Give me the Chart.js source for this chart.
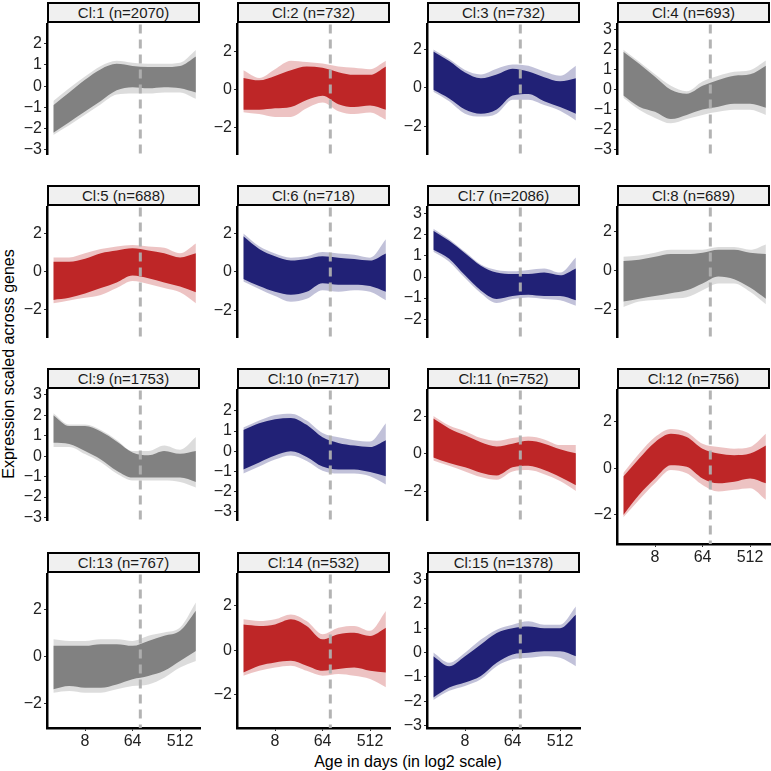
<!DOCTYPE html>
<html>
<head>
<meta charset="utf-8">
<script src="https://cdn.jsdelivr.net/npm/chart.js@4.4.1/dist/chart.umd.min.js"></script>
<style>
  body { margin: 0; background: #fff; width: 771px; height: 771px; position: relative; overflow: hidden;
         font-family: "Liberation Sans", Arial, sans-serif; }
  canvas { position: absolute; }
  .strip { position: absolute; box-sizing: border-box; border: 2px solid #000; background: #f0f0f0;
           font-size: 15px; text-align: center; line-height: 17px; color: #1a1a1a; white-space: nowrap; }
  .ytitle { position: absolute; left: 9px; top: 364px; transform: translate(-50%, -50%) rotate(-90deg);
            font-size: 16px; color: #000; white-space: nowrap; }
  .xtitle { position: absolute; left: 408px; top: 762px; transform: translate(-50%, -50%);
            font-size: 16px; color: #000; white-space: nowrap; }
</style>
</head>
<body>
<div class="ytitle">Expression scaled across genes</div>
<div class="xtitle">Age in days (in log2 scale)</div>
<script>
// sampled ages (days) – x positions of every band
const ageDays = [2, 4, 8, 16, 32, 64, 128, 256, 512, 1024];
const xTickDays = [8, 64, 512];
const markerDay = 90;

const clusterNames = ['Cl:1 (n=2070)', 'Cl:2 (n=732)', 'Cl:3 (n=732)', 'Cl:4 (n=693)',
  'Cl:5 (n=688)', 'Cl:6 (n=718)', 'Cl:7 (n=2086)', 'Cl:8 (n=689)',
  'Cl:9 (n=1753)', 'Cl:10 (n=717)', 'Cl:11 (n=752)', 'Cl:12 (n=756)',
  'Cl:13 (n=767)', 'Cl:14 (n=532)', 'Cl:15 (n=1378)'];
const clusterGroup = ['grey', 'red', 'blue', 'grey', 'red', 'blue', 'blue', 'grey',
  'grey', 'blue', 'red', 'red', 'grey', 'red', 'blue'];

// faint outer edge of the bundle of gene curves
const outerHigh = [
  [-0.7, -0.1, 0.45, 0.95, 1.2, 1.1, 1.05, 1.05, 1.1, 1.7],
  [1.0, 0.6, 1.06, 1.5, 1.43, 1.35, 1.2, 1.13, 1.06, 1.5],
  [2.0, 1.5, 0.93, 0.7, 1.0, 1.22, 1.15, 0.85, 0.63, 1.15],
  [2.0, 1.4, 0.77, 0.2, -0.07, 0.42, 0.7, 0.9, 0.98, 1.46],
  [0.73, 0.73, 0.95, 1.17, 1.31, 1.39, 1.31, 1.24, 0.95, 1.46],
  [2.0, 1.33, 0.96, 0.74, 0.81, 1.04, 0.96, 0.89, 0.74, 1.7],
  [2.3, 1.8, 1.2, 0.6, 0.34, 0.28, 0.34, 0.41, 0.21, 0.93],
  [0.72, 0.79, 0.93, 1.08, 1.08, 1.08, 1.22, 1.22, 1.08, 1.36],
  [2.09, 1.54, 1.54, 1.27, 0.79, 0.25, 0.25, 0.52, 0.31, 0.93],
  [1.17, 1.52, 1.79, 1.86, 1.52, 0.9, 0.69, 0.55, 0.48, 1.38],
  [2.04, 1.52, 1.22, 0.85, 0.7, 0.85, 0.93, 0.78, 0.48, 0.48],
  [-0.2, 0.64, 1.35, 1.7, 1.56, 1.06, 0.92, 0.85, 0.92, 1.49],
  [0.74, 0.67, 0.67, 0.74, 0.74, 0.67, 0.89, 1.03, 1.24, 2.31],
  [1.39, 1.31, 1.39, 1.61, 1.31, 0.72, 1.01, 1.09, 0.87, 1.76],
  [0.0, -0.42, -0.01, 0.53, 0.94, 1.14, 1.28, 1.14, 1.14, 1.89]
];
// dense core of the bundle
const coreHigh = [
  [-0.9, -0.3, 0.3, 0.8, 1.05, 0.95, 0.9, 0.9, 0.95, 1.4],
  [0.6, 0.47, 0.7, 1.0, 1.2, 1.13, 0.9, 0.76, 0.76, 1.2],
  [1.9, 1.4, 0.8, 0.5, 0.7, 1.0, 0.85, 0.56, 0.34, 0.5],
  [1.9, 1.3, 0.65, 0.0, -0.2, 0.2, 0.49, 0.7, 0.77, 1.2],
  [0.5, 0.5, 0.66, 0.95, 1.09, 1.21, 1.09, 0.95, 0.73, 0.95],
  [1.85, 1.19, 0.81, 0.59, 0.67, 0.81, 0.74, 0.67, 0.59, 0.96],
  [2.2, 1.72, 1.13, 0.54, 0.21, 0.14, 0.14, 0.21, 0.08, 0.41],
  [0.5, 0.57, 0.72, 0.86, 0.86, 0.93, 1.08, 1.08, 0.93, 0.86],
  [2.0, 1.47, 1.47, 1.2, 0.72, 0.18, 0.04, 0.25, 0.11, 0.25],
  [1.05, 1.38, 1.58, 1.65, 1.31, 0.69, 0.41, 0.28, 0.21, 0.55],
  [1.9, 1.37, 1.0, 0.63, 0.4, 0.55, 0.7, 0.55, 0.25, 0.03],
  [-0.35, 0.43, 1.13, 1.49, 1.35, 0.85, 0.64, 0.57, 0.64, 0.99],
  [0.46, 0.46, 0.46, 0.53, 0.53, 0.46, 0.67, 0.89, 1.1, 1.96],
  [1.15, 1.09, 1.16, 1.39, 1.09, 0.49, 0.72, 0.79, 0.64, 1.01],
  [-0.15, -0.56, -0.15, 0.33, 0.8, 1.0, 1.07, 1.0, 1.0, 1.55]
];
const coreLow = [
  [-2.2, -1.7, -1.2, -0.7, -0.2, -0.05, -0.1, -0.05, -0.1, -0.3],
  [-1.07, -1.07, -1.0, -0.93, -0.56, -0.34, -0.78, -0.93, -0.85, -1.07],
  [-0.1, -0.55, -1.13, -1.35, -1.13, -0.4, -0.32, -0.7, -1.0, -1.35],
  [-0.28, -0.84, -1.1, -1.46, -1.25, -0.98, -0.84, -0.7, -0.7, -0.9],
  [-1.5, -1.39, -1.17, -0.88, -0.58, -0.22, -0.36, -0.58, -0.8, -1.1],
  [-0.37, -0.74, -1.04, -1.19, -1.04, -0.59, -0.67, -0.67, -0.74, -1.04],
  [1.3, 0.87, 0.08, -0.64, -1.04, -0.9, -0.84, -0.9, -0.9, -1.1],
  [-1.58, -1.43, -1.29, -1.15, -1.0, -0.65, -0.29, -0.43, -0.86, -1.43],
  [0.65, 0.59, 0.25, -0.16, -0.71, -1.05, -1.05, -1.05, -1.05, -1.26],
  [-0.9, -0.55, -0.21, 0.0, -0.28, -0.76, -0.9, -0.9, -1.03, -1.24],
  [-0.19, -0.49, -0.72, -1.01, -1.16, -0.72, -0.64, -0.87, -1.24, -1.69],
  [-2.0, -1.13, -0.43, 0.14, 0.07, -0.43, -0.64, -0.57, -0.43, -0.64],
  [-1.4, -1.26, -1.33, -1.33, -1.19, -0.97, -0.83, -0.61, -0.19, 0.24],
  [-1.0, -0.7, -0.55, -0.48, -0.7, -0.93, -0.85, -0.78, -0.93, -1.0],
  [-1.85, -1.44, -1.23, -0.96, -0.42, -0.08, -0.01, 0.05, 0.05, -0.15]
];
const outerLow = [
  [-2.3, -1.85, -1.35, -0.85, -0.4, -0.35, -0.35, -0.3, -0.3, -0.6],
  [-1.2, -1.3, -1.45, -1.45, -1.0, -0.7, -1.15, -1.3, -1.22, -1.6],
  [-0.2, -0.7, -1.35, -1.5, -1.35, -0.62, -0.62, -0.9, -1.2, -1.7],
  [-0.4, -1.0, -1.4, -1.67, -1.46, -1.25, -1.1, -1.0, -1.0, -1.25],
  [-1.68, -1.53, -1.39, -1.24, -0.88, -0.51, -0.66, -0.88, -1.1, -1.68],
  [-0.5, -0.89, -1.26, -1.56, -1.41, -0.96, -1.04, -0.96, -1.04, -1.48],
  [1.2, 0.73, -0.05, -0.77, -1.23, -1.04, -0.97, -1.04, -1.1, -1.36],
  [-1.86, -1.58, -1.5, -1.43, -1.36, -1.0, -0.65, -0.65, -1.08, -1.72],
  [0.45, 0.45, 0.1, -0.3, -0.85, -1.19, -1.19, -1.19, -1.26, -1.53],
  [-1.1, -0.76, -0.41, -0.21, -0.48, -0.96, -1.1, -1.1, -1.24, -1.65],
  [-0.35, -0.64, -0.94, -1.24, -1.39, -0.94, -0.87, -1.09, -1.46, -1.99],
  [-2.1, -1.35, -0.64, -0.07, -0.21, -0.71, -0.99, -0.92, -0.85, -1.35],
  [-1.54, -1.47, -1.54, -1.54, -1.4, -1.26, -1.19, -0.9, -0.47, -0.19],
  [-1.15, -0.93, -0.78, -0.7, -0.93, -1.15, -1.07, -1.15, -1.3, -1.67],
  [-1.95, -1.57, -1.37, -1.1, -0.56, -0.28, -0.22, -0.15, -0.22, -0.56]
];

const yLimits = [[-3.2, 2.9], [-3.4, 3.4], [-3.45, 3.3], [-3.2, 3.25],
  [-3.45, 3.35], [-3.4, 3.35], [-2.85, 3.3], [-3.4, 3.25],
  [-3.12, 3.2], [-3.4, 3.0], [-3.55, 3.4], [-3.25, 3.35],
  [-3.05, 3.5], [-3.5, 3.4], [-3.1, 3.2]];
const yTickValues = [[-3, -2, -1, 0, 1, 2], [-2, 0, 2], [-2, 0, 2], [-3, -2, -1, 0, 1, 2, 3],
  [-2, 0, 2], [-2, 0, 2], [-2, -1, 0, 1, 2, 3], [-2, 0, 2],
  [-3, -2, -1, 0, 1, 2, 3], [-3, -2, -1, 0, 1, 2], [-2, 0, 2], [-2, 0, 2],
  [-2, 0, 2], [-2, 0, 2], [-3, -2, -1, 0, 1, 2, 3]];

const palette = {
  grey: ['rgba(130,130,130,1)', 'rgba(130,130,130,0.28)'],
  red: ['rgba(190,38,40,1)', 'rgba(190,38,40,0.28)'],
  blue: ['rgba(34,34,118,1)', 'rgba(34,34,118,0.28)']
};

// facet layout
const colLeft = [47, 237, 427, 617];
const stripTop = [2, 185, 368, 552];
const panelW = 153, panelH = 155, stripH = 21, yAxisW = 34, xAxisH = 24, pad = 10;
const withXAxis = [11, 12, 13, 14];

const markerLine = {
  id: 'markerLine',
  afterDatasetsDraw(chart) {
    const { ctx, chartArea, scales } = chart;
    const x = scales.x.getPixelForValue(markerDay);
    ctx.save();
    ctx.strokeStyle = 'rgba(175,175,175,0.95)';
    ctx.lineWidth = 3;
    ctx.setLineDash([9, 6]);
    ctx.beginPath();
    ctx.moveTo(x, chartArea.top);
    ctx.lineTo(x, chartArea.bottom);
    ctx.stroke();
    ctx.restore();
  }
};

const fmt = v => (v < 0 ? '\u2212' + Math.abs(v) : String(v));
const pts = arr => ageDays.map((d, k) => ({ x: d, y: arr[k] }));

function band(data, colour, fillTo) {
  return {
    data: pts(data), fill: fillTo, backgroundColor: colour,
    borderWidth: 0, borderColor: 'rgba(0,0,0,0)', pointRadius: 0,
    cubicInterpolationMode: 'monotone'
  };
}

clusterNames.forEach((name, i) => {
  const col = i % 4, row = Math.floor(i / 4);
  const left = colLeft[col], top = stripTop[row];
  const hasX = withXAxis.includes(i);

  const strip = document.createElement('div');
  strip.className = 'strip';
  strip.style.left = left + 'px';
  strip.style.top = top + 'px';
  strip.style.width = panelW + 'px';
  strip.style.height = stripH + 'px';
  strip.textContent = name;

  const canvas = document.createElement('canvas');
  const w = yAxisW + panelW + 4;
  const h = pad + panelH + (hasX ? xAxisH : 0) + pad;
  canvas.width = w; canvas.height = h;
  canvas.style.width = w + 'px'; canvas.style.height = h + 'px';
  canvas.style.left = (left - yAxisW) + 'px';
  canvas.style.top = (top + stripH - pad) + 'px';
  document.body.appendChild(canvas);
  document.body.appendChild(strip);

  const [solid, faint] = palette[clusterGroup[i]];
  const tickFont = { family: '"Liberation Sans", Arial, sans-serif', size: 16 };

  new Chart(canvas, {
    type: 'line',
    data: {
      datasets: [
        band(outerHigh[i], faint, 1),
        band(outerLow[i], faint, false),
        band(coreHigh[i], solid, 3),
        band(coreLow[i], solid, false)
      ]
    },
    options: {
      responsive: false, animation: false, devicePixelRatio: 1,
      layout: { padding: { top: pad, bottom: pad, left: 0, right: 4 } },
      plugins: { legend: { display: false }, tooltip: { enabled: false } },
      scales: {
        x: {
          type: 'logarithmic', display: hasX,
          min: Math.pow(2, 0.6), max: Math.pow(2, 10.26),
          afterBuildTicks: s => { s.ticks = xTickDays.map(v => ({ value: v })); },
          afterFit: s => { s.height = xAxisH; },
          border: { display: true, color: '#000', width: 2.5 },
          grid: { drawOnChartArea: false, drawTicks: true, tickLength: 3, color: '#333' },
          ticks: { color: '#222', font: tickFont, padding: 1, maxRotation: 0, autoSkip: false,
                   callback: v => String(v) }
        },
        y: {
          type: 'linear', min: yLimits[i][0], max: yLimits[i][1],
          afterBuildTicks: s => { s.ticks = yTickValues[i].map(v => ({ value: v })); },
          afterFit: s => { s.width = yAxisW; },
          border: { display: true, color: '#000', width: 2.5 },
          grid: { drawOnChartArea: false, drawTicks: true, tickLength: 3, color: '#333' },
          ticks: { color: '#222', font: tickFont, padding: 2, autoSkip: false, callback: fmt }
        }
      }
    },
    plugins: [markerLine]
  });
});
</script>
</body>
</html>
